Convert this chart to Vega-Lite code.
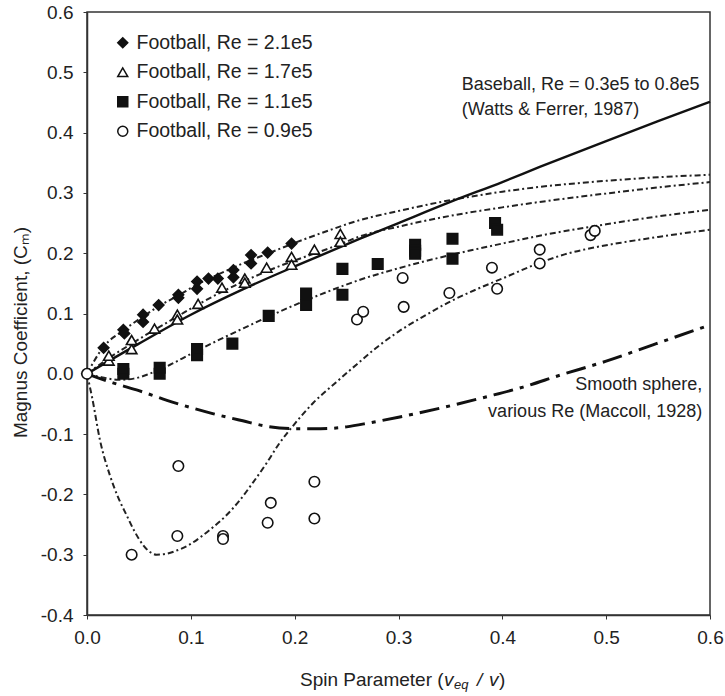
{
  "$schema": "https://vega.github.io/schema/vega-lite/v6.json",
  "width": 623,
  "height": 603,
  "autosize": {"type": "none"},
  "padding": {"left": 87, "top": 12, "right": 15, "bottom": 81},
  "background": "white",
  "config": {
    "font": "Liberation Sans",
    "view": {"stroke": "#333", "strokeWidth": 1.5},
    "axis": {
      "grid": false,
      "domainColor": "#333",
      "domainWidth": 1.5,
      "tickColor": "#333",
      "tickSize": 4,
      "labelFlush": false,
      "labelFont": "Liberation Sans",
      "labelFontSize": 19,
      "labelColor": "#222",
      "titleFont": "Liberation Sans",
      "titleFontSize": 19,
      "titleFontWeight": "normal",
      "titleColor": "#222"
    }
  },
  "datasets": {
    "pts": [
      {"series": "Football, Re = 2.1e5", "x": 0, "y": 0},
      {"series": "Football, Re = 2.1e5", "x": 0.016, "y": 0.043},
      {"series": "Football, Re = 2.1e5", "x": 0.035, "y": 0.073},
      {"series": "Football, Re = 2.1e5", "x": 0.036, "y": 0.067},
      {"series": "Football, Re = 2.1e5", "x": 0.054, "y": 0.098},
      {"series": "Football, Re = 2.1e5", "x": 0.054, "y": 0.086},
      {"series": "Football, Re = 2.1e5", "x": 0.069, "y": 0.114},
      {"series": "Football, Re = 2.1e5", "x": 0.088, "y": 0.131},
      {"series": "Football, Re = 2.1e5", "x": 0.088, "y": 0.126},
      {"series": "Football, Re = 2.1e5", "x": 0.106, "y": 0.153},
      {"series": "Football, Re = 2.1e5", "x": 0.106, "y": 0.141},
      {"series": "Football, Re = 2.1e5", "x": 0.117, "y": 0.158},
      {"series": "Football, Re = 2.1e5", "x": 0.126, "y": 0.158},
      {"series": "Football, Re = 2.1e5", "x": 0.141, "y": 0.172},
      {"series": "Football, Re = 2.1e5", "x": 0.141, "y": 0.16},
      {"series": "Football, Re = 2.1e5", "x": 0.158, "y": 0.197},
      {"series": "Football, Re = 2.1e5", "x": 0.158, "y": 0.183},
      {"series": "Football, Re = 2.1e5", "x": 0.174, "y": 0.201},
      {"series": "Football, Re = 2.1e5", "x": 0.197, "y": 0.216},
      {"series": "Football, Re = 1.7e5", "x": 0.021, "y": 0.022},
      {"series": "Football, Re = 1.7e5", "x": 0.021, "y": 0.03},
      {"series": "Football, Re = 1.7e5", "x": 0.043, "y": 0.041},
      {"series": "Football, Re = 1.7e5", "x": 0.043, "y": 0.056},
      {"series": "Football, Re = 1.7e5", "x": 0.065, "y": 0.075},
      {"series": "Football, Re = 1.7e5", "x": 0.087, "y": 0.098},
      {"series": "Football, Re = 1.7e5", "x": 0.087, "y": 0.09},
      {"series": "Football, Re = 1.7e5", "x": 0.107, "y": 0.116},
      {"series": "Football, Re = 1.7e5", "x": 0.13, "y": 0.143},
      {"series": "Football, Re = 1.7e5", "x": 0.152, "y": 0.158},
      {"series": "Football, Re = 1.7e5", "x": 0.152, "y": 0.151},
      {"series": "Football, Re = 1.7e5", "x": 0.173, "y": 0.176},
      {"series": "Football, Re = 1.7e5", "x": 0.197, "y": 0.194},
      {"series": "Football, Re = 1.7e5", "x": 0.197, "y": 0.181},
      {"series": "Football, Re = 1.7e5", "x": 0.219, "y": 0.206},
      {"series": "Football, Re = 1.7e5", "x": 0.244, "y": 0.232},
      {"series": "Football, Re = 1.7e5", "x": 0.244, "y": 0.219},
      {"series": "Football, Re = 1.1e5", "x": 0.035, "y": 0.0},
      {"series": "Football, Re = 1.1e5", "x": 0.035, "y": 0.008},
      {"series": "Football, Re = 1.1e5", "x": 0.07, "y": 0.0},
      {"series": "Football, Re = 1.1e5", "x": 0.07, "y": 0.01},
      {"series": "Football, Re = 1.1e5", "x": 0.106, "y": 0.031},
      {"series": "Football, Re = 1.1e5", "x": 0.106, "y": 0.041},
      {"series": "Football, Re = 1.1e5", "x": 0.14, "y": 0.05},
      {"series": "Football, Re = 1.1e5", "x": 0.175, "y": 0.096},
      {"series": "Football, Re = 1.1e5", "x": 0.211, "y": 0.133},
      {"series": "Football, Re = 1.1e5", "x": 0.211, "y": 0.114},
      {"series": "Football, Re = 1.1e5", "x": 0.246, "y": 0.174},
      {"series": "Football, Re = 1.1e5", "x": 0.246, "y": 0.131},
      {"series": "Football, Re = 1.1e5", "x": 0.28, "y": 0.182},
      {"series": "Football, Re = 1.1e5", "x": 0.316, "y": 0.214},
      {"series": "Football, Re = 1.1e5", "x": 0.316, "y": 0.204},
      {"series": "Football, Re = 1.1e5", "x": 0.316, "y": 0.199},
      {"series": "Football, Re = 1.1e5", "x": 0.352, "y": 0.224},
      {"series": "Football, Re = 1.1e5", "x": 0.352, "y": 0.191},
      {"series": "Football, Re = 1.1e5", "x": 0.393, "y": 0.25},
      {"series": "Football, Re = 1.1e5", "x": 0.395, "y": 0.239},
      {"series": "Football, Re = 0.9e5", "x": 0, "y": 0},
      {"series": "Football, Re = 0.9e5", "x": 0.043, "y": -0.3},
      {"series": "Football, Re = 0.9e5", "x": 0.087, "y": -0.269},
      {"series": "Football, Re = 0.9e5", "x": 0.088, "y": -0.153},
      {"series": "Football, Re = 0.9e5", "x": 0.131, "y": -0.269},
      {"series": "Football, Re = 0.9e5", "x": 0.131, "y": -0.274},
      {"series": "Football, Re = 0.9e5", "x": 0.174, "y": -0.247},
      {"series": "Football, Re = 0.9e5", "x": 0.177, "y": -0.214},
      {"series": "Football, Re = 0.9e5", "x": 0.219, "y": -0.179},
      {"series": "Football, Re = 0.9e5", "x": 0.219, "y": -0.24},
      {"series": "Football, Re = 0.9e5", "x": 0.26, "y": 0.09},
      {"series": "Football, Re = 0.9e5", "x": 0.266, "y": 0.103},
      {"series": "Football, Re = 0.9e5", "x": 0.304, "y": 0.159},
      {"series": "Football, Re = 0.9e5", "x": 0.305, "y": 0.111},
      {"series": "Football, Re = 0.9e5", "x": 0.349, "y": 0.134},
      {"series": "Football, Re = 0.9e5", "x": 0.39, "y": 0.176},
      {"series": "Football, Re = 0.9e5", "x": 0.395, "y": 0.141},
      {"series": "Football, Re = 0.9e5", "x": 0.436, "y": 0.206},
      {"series": "Football, Re = 0.9e5", "x": 0.436, "y": 0.183},
      {"series": "Football, Re = 0.9e5", "x": 0.485, "y": 0.23},
      {"series": "Football, Re = 0.9e5", "x": 0.489, "y": 0.237}
    ],
    "fits": [
      {"fit": "a", "x": 0, "y": 0}, {"fit": "a", "x": 0.016, "y": 0.045}, {"fit": "a", "x": 0.035, "y": 0.072},
      {"fit": "a", "x": 0.054, "y": 0.095}, {"fit": "a", "x": 0.07, "y": 0.113}, {"fit": "a", "x": 0.088, "y": 0.13},
      {"fit": "a", "x": 0.106, "y": 0.148}, {"fit": "a", "x": 0.128, "y": 0.166}, {"fit": "a", "x": 0.15, "y": 0.183},
      {"fit": "a", "x": 0.175, "y": 0.2}, {"fit": "a", "x": 0.2, "y": 0.217}, {"fit": "a", "x": 0.23, "y": 0.236},
      {"fit": "a", "x": 0.263, "y": 0.255}, {"fit": "a", "x": 0.3, "y": 0.27}, {"fit": "a", "x": 0.35, "y": 0.288},
      {"fit": "a", "x": 0.4, "y": 0.302}, {"fit": "a", "x": 0.436, "y": 0.31}, {"fit": "a", "x": 0.5, "y": 0.32},
      {"fit": "a", "x": 0.55, "y": 0.326}, {"fit": "a", "x": 0.6, "y": 0.33},
      {"fit": "b", "x": 0, "y": 0}, {"fit": "b", "x": 0.021, "y": 0.026}, {"fit": "b", "x": 0.043, "y": 0.05},
      {"fit": "b", "x": 0.065, "y": 0.073}, {"fit": "b", "x": 0.087, "y": 0.095}, {"fit": "b", "x": 0.107, "y": 0.115},
      {"fit": "b", "x": 0.13, "y": 0.136}, {"fit": "b", "x": 0.152, "y": 0.154}, {"fit": "b", "x": 0.173, "y": 0.17},
      {"fit": "b", "x": 0.2, "y": 0.188}, {"fit": "b", "x": 0.22, "y": 0.2}, {"fit": "b", "x": 0.244, "y": 0.215},
      {"fit": "b", "x": 0.263, "y": 0.228}, {"fit": "b", "x": 0.3, "y": 0.244}, {"fit": "b", "x": 0.35, "y": 0.262},
      {"fit": "b", "x": 0.4, "y": 0.276}, {"fit": "b", "x": 0.436, "y": 0.285}, {"fit": "b", "x": 0.5, "y": 0.299},
      {"fit": "b", "x": 0.55, "y": 0.309}, {"fit": "b", "x": 0.6, "y": 0.318},
      {"fit": "c", "x": 0, "y": 0}, {"fit": "c", "x": 0.015, "y": -0.006}, {"fit": "c", "x": 0.03, "y": -0.01},
      {"fit": "c", "x": 0.045, "y": -0.008}, {"fit": "c", "x": 0.06, "y": 0.0}, {"fit": "c", "x": 0.08, "y": 0.015},
      {"fit": "c", "x": 0.1, "y": 0.033}, {"fit": "c", "x": 0.128, "y": 0.057}, {"fit": "c", "x": 0.15, "y": 0.075},
      {"fit": "c", "x": 0.175, "y": 0.095}, {"fit": "c", "x": 0.2, "y": 0.114}, {"fit": "c", "x": 0.23, "y": 0.135},
      {"fit": "c", "x": 0.263, "y": 0.156}, {"fit": "c", "x": 0.3, "y": 0.175}, {"fit": "c", "x": 0.35, "y": 0.197},
      {"fit": "c", "x": 0.4, "y": 0.216}, {"fit": "c", "x": 0.436, "y": 0.229}, {"fit": "c", "x": 0.5, "y": 0.248},
      {"fit": "c", "x": 0.55, "y": 0.261}, {"fit": "c", "x": 0.6, "y": 0.272},
      {"fit": "d", "x": 0, "y": 0}, {"fit": "d", "x": 0.005, "y": -0.04}, {"fit": "d", "x": 0.0125, "y": -0.11},
      {"fit": "d", "x": 0.022, "y": -0.168}, {"fit": "d", "x": 0.03, "y": -0.205}, {"fit": "d", "x": 0.038, "y": -0.234},
      {"fit": "d", "x": 0.046, "y": -0.262}, {"fit": "d", "x": 0.054, "y": -0.284}, {"fit": "d", "x": 0.061, "y": -0.296},
      {"fit": "d", "x": 0.067, "y": -0.3}, {"fit": "d", "x": 0.075, "y": -0.299}, {"fit": "d", "x": 0.085, "y": -0.294},
      {"fit": "d", "x": 0.099, "y": -0.283}, {"fit": "d", "x": 0.11, "y": -0.27}, {"fit": "d", "x": 0.121, "y": -0.255},
      {"fit": "d", "x": 0.134, "y": -0.235}, {"fit": "d", "x": 0.147, "y": -0.21}, {"fit": "d", "x": 0.16, "y": -0.18},
      {"fit": "d", "x": 0.173, "y": -0.148}, {"fit": "d", "x": 0.185, "y": -0.116}, {"fit": "d", "x": 0.2, "y": -0.083},
      {"fit": "d", "x": 0.218, "y": -0.048}, {"fit": "d", "x": 0.24, "y": -0.014}, {"fit": "d", "x": 0.26, "y": 0.016},
      {"fit": "d", "x": 0.28, "y": 0.045}, {"fit": "d", "x": 0.3, "y": 0.07}, {"fit": "d", "x": 0.325, "y": 0.096},
      {"fit": "d", "x": 0.35, "y": 0.12}, {"fit": "d", "x": 0.375, "y": 0.14}, {"fit": "d", "x": 0.4, "y": 0.158},
      {"fit": "d", "x": 0.436, "y": 0.184}, {"fit": "d", "x": 0.46, "y": 0.198}, {"fit": "d", "x": 0.487, "y": 0.209},
      {"fit": "d", "x": 0.52, "y": 0.219}, {"fit": "d", "x": 0.55, "y": 0.227}, {"fit": "d", "x": 0.6, "y": 0.239}
    ],
    "baseball": [
      {"x": 0, "y": 0}, {"x": 0.05, "y": 0.05}, {"x": 0.1, "y": 0.098}, {"x": 0.15, "y": 0.14},
      {"x": 0.2, "y": 0.178}, {"x": 0.263, "y": 0.224}, {"x": 0.3, "y": 0.25}, {"x": 0.35, "y": 0.285},
      {"x": 0.4, "y": 0.318}, {"x": 0.436, "y": 0.343}, {"x": 0.5, "y": 0.386}, {"x": 0.55, "y": 0.419},
      {"x": 0.6, "y": 0.451}
    ],
    "maccoll": [
      {"x": 0, "y": 0}, {"x": 0.025, "y": -0.015}, {"x": 0.05, "y": -0.028}, {"x": 0.077, "y": -0.044},
      {"x": 0.1, "y": -0.056}, {"x": 0.121, "y": -0.066}, {"x": 0.15, "y": -0.078}, {"x": 0.173, "y": -0.087},
      {"x": 0.2, "y": -0.091}, {"x": 0.225, "y": -0.091}, {"x": 0.25, "y": -0.088}, {"x": 0.273, "y": -0.081},
      {"x": 0.3, "y": -0.072}, {"x": 0.35, "y": -0.053}, {"x": 0.385, "y": -0.038}, {"x": 0.42, "y": -0.022},
      {"x": 0.456, "y": -0.002}, {"x": 0.5, "y": 0.021}, {"x": 0.545, "y": 0.048}, {"x": 0.6, "y": 0.081}
    ],
    "notes": [
      {"x": 0.361, "y": 0.479, "label": "Baseball, Re = 0.3e5 to 0.8e5", "side": "left"},
      {"x": 0.361, "y": 0.438, "label": "(Watts & Ferrer, 1987)", "side": "left"},
      {"x": 0.5925, "y": -0.018, "label": "Smooth sphere,", "side": "right"},
      {"x": 0.5925, "y": -0.063, "label": "various Re (Maccoll, 1928)", "side": "right"}
    ],
    "anchor": [{"x": 0, "y": -0.4}]
  },
  "layer": [
    {
      "data": {"name": "fits"},
      "mark": {"type": "line", "color": "#222", "strokeWidth": 2, "strokeDash": [6, 3, 2, 3], "interpolate": "monotone"},
      "encoding": {
        "x": {"field": "x", "type": "quantitative", "scale": {"domain": [0, 0.6], "nice": false, "zero": false},
          "axis": {"values": [0, 0.1, 0.2, 0.3, 0.4, 0.5, 0.6], "format": ".1f", "title": null, "labelPadding": 9}},
        "y": {"field": "y", "type": "quantitative", "scale": {"domain": [-0.4, 0.6], "nice": false, "zero": false},
          "axis": {"values": [-0.4, -0.3, -0.2, -0.1, 0, 0.1, 0.2, 0.3, 0.4, 0.5, 0.6],
            "labelExpr": "replace(format(datum.value, '.1f'), '\u2212', '-')",
            "title": "Magnus Coefficient, (C\u2098)", "labelPadding": 10, "titlePadding": 10, "titleY": 320}},
        "detail": {"field": "fit", "type": "nominal"}
      }
    },
    {
      "data": {"name": "baseball"},
      "mark": {"type": "line", "color": "#111", "strokeWidth": 2.4, "interpolate": "monotone"},
      "encoding": {"x": {"field": "x", "type": "quantitative"}, "y": {"field": "y", "type": "quantitative"}}
    },
    {
      "data": {"name": "maccoll"},
      "mark": {"type": "line", "color": "#111", "strokeWidth": 3, "strokeDash": [20, 7, 4, 7], "interpolate": "monotone"},
      "encoding": {"x": {"field": "x", "type": "quantitative"}, "y": {"field": "y", "type": "quantitative"}}
    },
    {
      "data": {"name": "pts"},
      "mark": {"type": "point", "filled": true, "strokeWidth": 1.6, "size": 110, "opacity": 1},
      "encoding": {
        "x": {"field": "x", "type": "quantitative"},
        "y": {"field": "y", "type": "quantitative"},
        "shape": {"field": "series", "type": "nominal",
          "scale": {"domain": ["Football, Re = 2.1e5", "Football, Re = 1.7e5", "Football, Re = 1.1e5", "Football, Re = 0.9e5"],
            "range": ["diamond", "triangle-up", "square", "circle"]},
          "legend": {"title": null, "orient": "none", "legendX": 26, "legendY": 21, "labelFontSize": 19.5,
            "labelFont": "Liberation Sans", "labelColor": "#222", "labelLimit": 0, "symbolSize": 100, "symbolStrokeWidth": 1.5,
            "rowPadding": 8.5, "labelOffset": 4, "padding": 0}},
        "fill": {"field": "series", "type": "nominal",
          "scale": {"domain": ["Football, Re = 2.1e5", "Football, Re = 1.7e5", "Football, Re = 1.1e5", "Football, Re = 0.9e5"],
            "range": ["#111", "white", "#111", "white"]},
          "legend": {"title": null, "orient": "none", "legendX": 26, "legendY": 21, "labelFontSize": 19.5,
            "labelFont": "Liberation Sans", "labelColor": "#222", "labelLimit": 0, "symbolSize": 100, "symbolStrokeWidth": 1.5,
            "rowPadding": 8.5, "labelOffset": 4, "padding": 0}},
        "stroke": {"field": "series", "type": "nominal",
          "scale": {"domain": ["Football, Re = 2.1e5", "Football, Re = 1.7e5", "Football, Re = 1.1e5", "Football, Re = 0.9e5"],
            "range": ["#111", "#111", "#111", "#111"]},
          "legend": {"title": null, "orient": "none", "legendX": 26, "legendY": 21, "labelFontSize": 19.5,
            "labelFont": "Liberation Sans", "labelColor": "#222", "labelLimit": 0, "symbolSize": 100, "symbolStrokeWidth": 1.5,
            "rowPadding": 8.5, "labelOffset": 4, "padding": 0}}
      }
    },
    {
      "data": {"name": "notes"},
      "transform": [{"filter": "datum.side == 'left'"}],
      "mark": {"type": "text", "align": "left", "baseline": "middle", "fontSize": 18, "color": "#222"},
      "encoding": {"x": {"field": "x", "type": "quantitative"}, "y": {"field": "y", "type": "quantitative"}, "text": {"field": "label"}}
    },
    {
      "data": {"name": "notes"},
      "transform": [{"filter": "datum.side == 'right'"}],
      "mark": {"type": "text", "align": "right", "baseline": "middle", "fontSize": 18, "color": "#222"},
      "encoding": {"x": {"field": "x", "type": "quantitative"}, "y": {"field": "y", "type": "quantitative"}, "text": {"field": "label"}}
    },
    {
      "data": {"name": "anchor"},
      "mark": {"type": "text", "text": "Spin Parameter (", "align": "left", "baseline": "middle", "fontSize": 19, "color": "#222", "dx": 213, "dy": 65},
      "encoding": {"x": {"field": "x", "type": "quantitative"}, "y": {"field": "y", "type": "quantitative"}}
    },
    {
      "data": {"name": "anchor"},
      "mark": {"type": "text", "text": "v", "align": "left", "baseline": "middle", "fontSize": 19, "fontStyle": "italic", "color": "#222", "dx": 357, "dy": 65},
      "encoding": {"x": {"field": "x", "type": "quantitative"}, "y": {"field": "y", "type": "quantitative"}}
    },
    {
      "data": {"name": "anchor"},
      "mark": {"type": "text", "text": "eq", "align": "left", "baseline": "middle", "fontSize": 13, "fontStyle": "italic", "color": "#222", "dx": 367, "dy": 70},
      "encoding": {"x": {"field": "x", "type": "quantitative"}, "y": {"field": "y", "type": "quantitative"}}
    },
    {
      "data": {"name": "anchor"},
      "mark": {"type": "text", "text": "/", "align": "left", "baseline": "middle", "fontSize": 19, "fontStyle": "italic", "color": "#222", "dx": 390, "dy": 65},
      "encoding": {"x": {"field": "x", "type": "quantitative"}, "y": {"field": "y", "type": "quantitative"}}
    },
    {
      "data": {"name": "anchor"},
      "mark": {"type": "text", "text": "v", "align": "left", "baseline": "middle", "fontSize": 19, "fontStyle": "italic", "color": "#222", "dx": 402, "dy": 65},
      "encoding": {"x": {"field": "x", "type": "quantitative"}, "y": {"field": "y", "type": "quantitative"}}
    },
    {
      "data": {"name": "anchor"},
      "mark": {"type": "text", "text": ")", "align": "left", "baseline": "middle", "fontSize": 19, "color": "#222", "dx": 412, "dy": 65},
      "encoding": {"x": {"field": "x", "type": "quantitative"}, "y": {"field": "y", "type": "quantitative"}}
    }
  ]
}
